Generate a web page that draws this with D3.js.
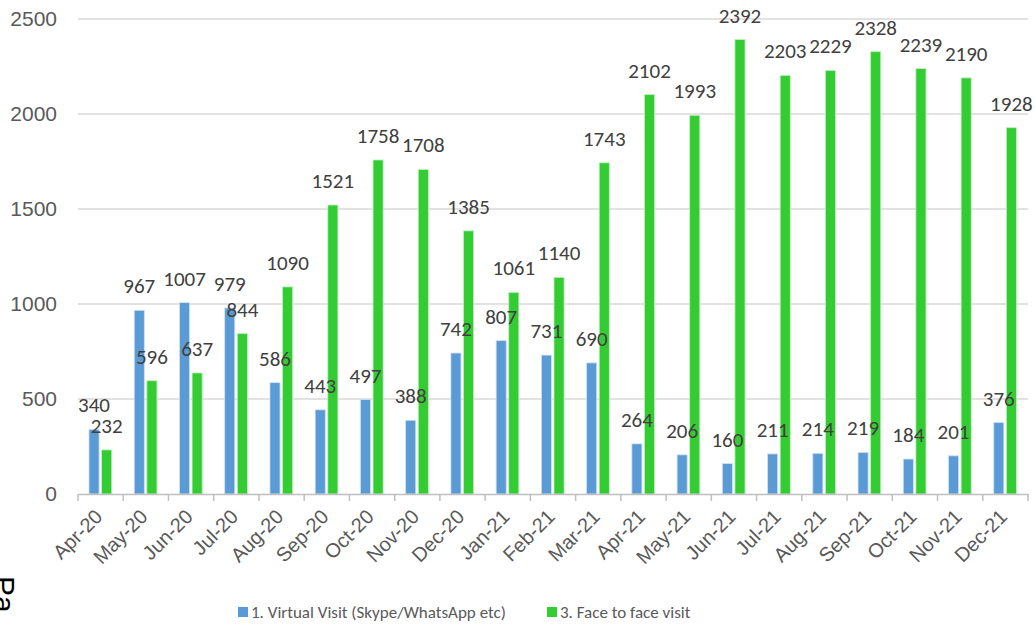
<!DOCTYPE html>
<html><head><meta charset="utf-8">
<script src="https://cdn.jsdelivr.net/npm/d3@7"></script>
<style>
html,body{margin:0;padding:0;background:#fff;}
svg{display:block;font-family:Carlito,Calibri,"Liberation Sans",sans-serif;}
</style></head>
<body><svg id="c" width="1035" height="629"></svg>
<script>
const categories = ["Apr-20","May-20","Jun-20","Jul-20","Aug-20","Sep-20","Oct-20","Nov-20","Dec-20","Jan-21","Feb-21","Mar-21","Apr-21","May-21","Jun-21","Jul-21","Aug-21","Sep-21","Oct-21","Nov-21","Dec-21"];
const virtualVisit = [340,967,1007,979,586,443,497,388,742,807,731,690,264,206,160,211,214,219,184,201,376];
const faceToFace = [232,596,637,844,1090,1521,1758,1708,1385,1061,1140,1743,2102,1993,2392,2203,2229,2328,2239,2190,1928];
const seriesNames = ["1. Virtual Visit (Skype/WhatsApp etc)","3. Face to face visit"];
const seriesColors = ["#5B9BD5","#33CC33"];
const yTicks = [0,500,1000,1500,2000,2500];

const svg = d3.select("#c");
const plot = {left:78, right:1028, top:19, bottom:494};

const x = d3.scaleBand().domain(categories).range([plot.left, plot.right]).padding(0);
const bw = x.bandwidth();
const xs = d3.scaleBand().domain([0,1]).range([bw*0.243, bw*0.745]).paddingInner(0.2).paddingOuter(0);
const y = d3.scaleLinear().domain([0,2500]).range([plot.bottom, plot.top]);

// gridlines
svg.append("g").selectAll("line").data(yTicks.filter(d=>d>0)).join("line")
  .attr("x1",plot.left).attr("x2",plot.right)
  .attr("y1",d=>y(d)).attr("y2",d=>y(d))
  .attr("stroke","#D9D9D9").attr("stroke-width",1.5);

// y axis labels
const yAxis = d3.axisLeft(y).tickValues(yTicks).tickFormat(d3.format("d")).tickSize(0).tickPadding(21);
const ya = svg.append("g").attr("transform",`translate(${plot.left},0)`).call(yAxis);
ya.select(".domain").remove();
ya.selectAll("text").attr("font-size","21px").attr("fill","#595959").attr("font-family",null);

// bars
const data = categories.map((c,i)=>({c, vals:[virtualVisit[i], faceToFace[i]]}));
const groups = svg.append("g").selectAll("g").data(data).join("g")
  .attr("transform",d=>`translate(${x(d.c)},0)`);
groups.selectAll("rect").data(d=>d.vals.map((v,k)=>({v,k}))).join("rect")
  .attr("x",d=>xs(d.k)).attr("width",xs.bandwidth())
  .attr("y",d=>y(d.v)).attr("height",d=>y(0)-y(d.v))
  .attr("fill",d=>seriesColors[d.k])
  .attr("stroke",d=>d.k===0?"#cfe0f2":"#bff0bf").attr("stroke-width",0.8);
groups.selectAll("text").data(d=>d.vals.map((v,k)=>({v,k}))).join("text")
  .attr("x",d=>xs(d.k)+xs.bandwidth()/2).attr("y",d=>y(d.v)-17)
  .attr("text-anchor","middle").attr("font-size","21px").attr("fill","#404040")
  .text(d=>d.v);

// x axis
const xAxis = d3.axisBottom(x).tickSize(0).tickFormat(d=>d);
const xa = svg.append("g").attr("transform",`translate(0,${plot.bottom})`).call(xAxis);
xa.select(".domain").attr("stroke","#BFBFBF").attr("stroke-width",1.5);
xa.selectAll("text").attr("font-size","20px").attr("fill","#595959").attr("font-family",null)
  .attr("text-anchor","end").attr("dy",null).attr("y",0)
  .attr("transform","translate(3,24) rotate(-45)");
// tick marks at band boundaries
const bounds = categories.map(c=>x(c)).concat([plot.right]);
svg.append("g").selectAll("line").data(bounds).join("line")
  .attr("x1",d=>d).attr("x2",d=>d).attr("y1",plot.bottom).attr("y2",plot.bottom+7)
  .attr("stroke","#BFBFBF").attr("stroke-width",1.5);

// legend
const legendPos = [238, 547];
const lg = svg.append("g").selectAll("g").data(seriesNames).join("g")
  .attr("transform",(d,i)=>`translate(${legendPos[i]},607)`);
lg.append("rect").attr("width",10).attr("height",10).attr("fill",(d,i)=>seriesColors[i]);
lg.append("text").attr("x",13).attr("y",11).attr("font-size","17px").attr("fill","#595959").text(d=>d);

// cropped page text at bottom left
svg.append("text").attr("transform","translate(-6,576) rotate(90)")
  .attr("font-size","30px").attr("fill","#000").attr("font-family","'Liberation Sans',sans-serif").text("Pa");
</script></body></html>
